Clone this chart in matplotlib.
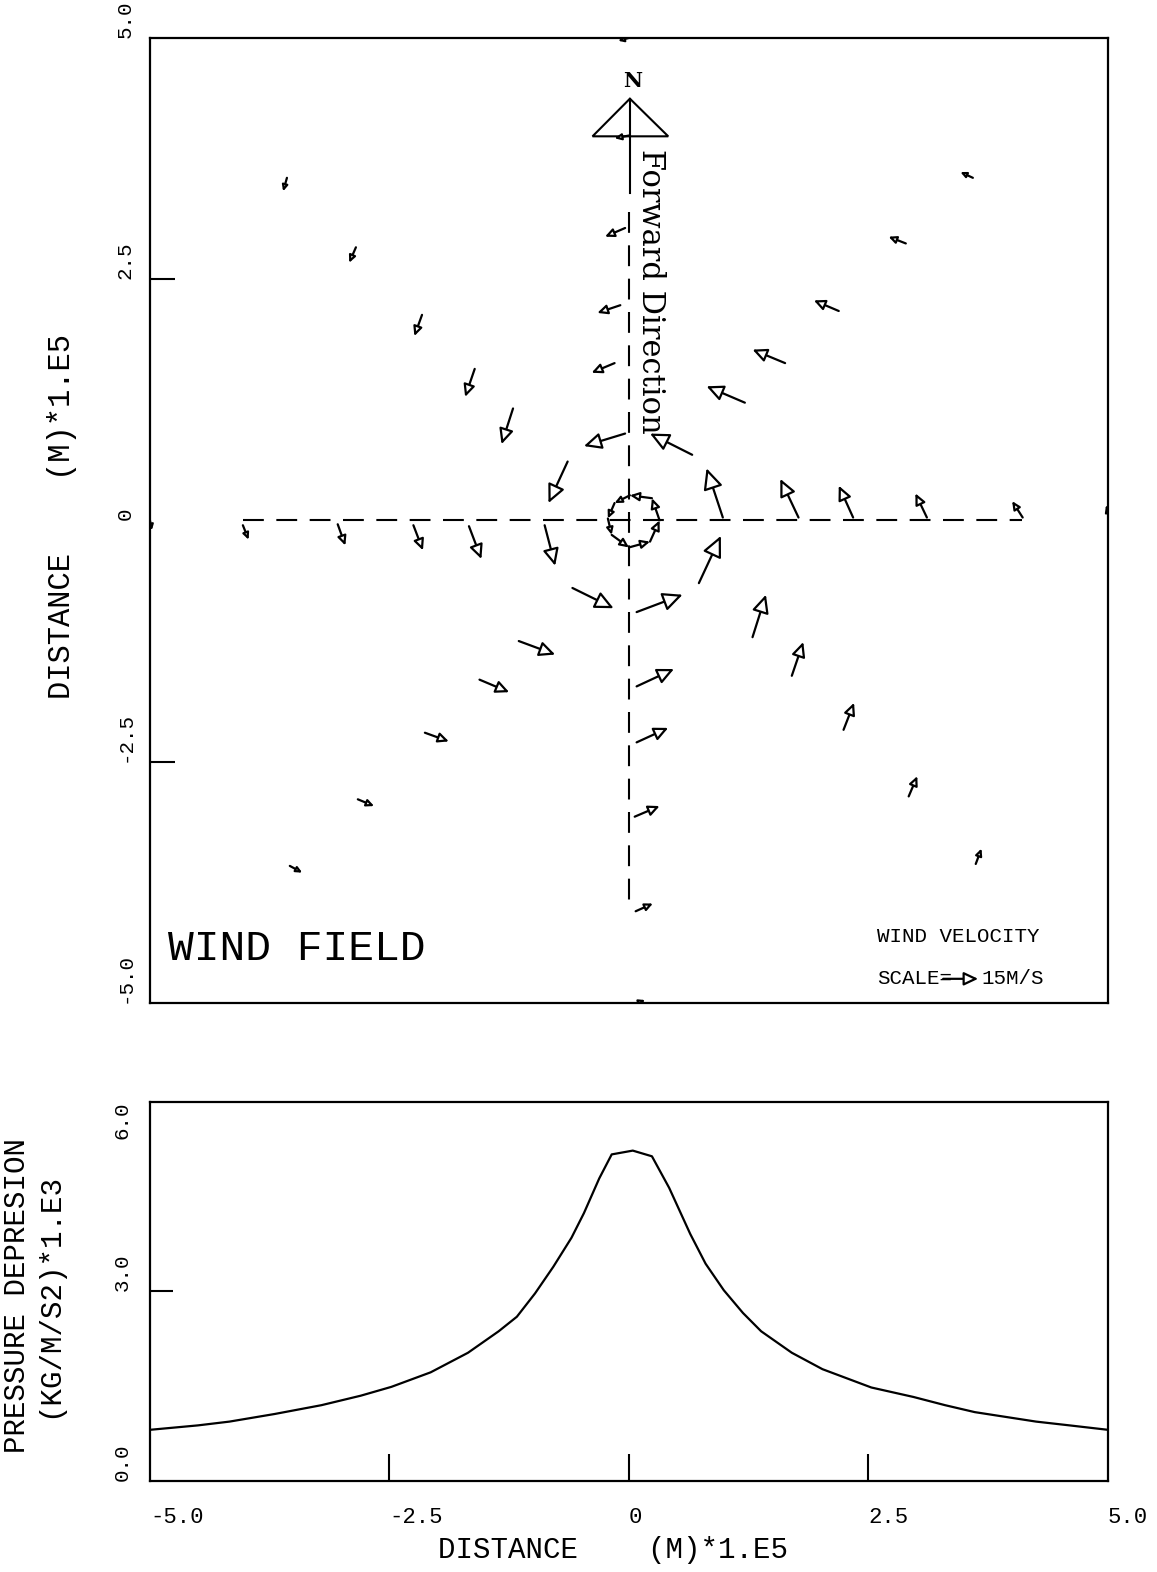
import numpy as np
import matplotlib.pyplot as plt
from matplotlib.patches import FancyArrowPatch, Polygon

mono = ['Liberation Mono', 'DejaVu Sans Mono']
serif = ['DejaVu Serif', 'Liberation Serif']

# wind vectors: tail (x0, y0) -> head (x1, y1), distance units 1.E5 m
# order: N, NW, W, SW, S, SE, E, NE rays (outer to inner), then the inner ring
x0 = [0.00, 0.01, -0.04, -0.09, -0.15, -0.04,
      -3.57, -2.85, -2.16, -1.61, -1.21, -0.64,
      -5.00, -4.03, -3.04, -2.25, -1.67, -0.88,
      -3.54, -2.83, -2.13, -1.56, -1.15, -0.59,
      0.03, 0.07, 0.06, 0.08, 0.08, 0.08,
      3.62, 2.92, 2.24, 1.70, 1.29, 0.73,
      5.03, 4.11, 3.11, 2.34, 1.77, 0.98,
      3.59, 2.89, 2.19, 1.63, 1.21, 0.66,
      0.32, 0.24, 0.01, -0.15, -0.22, -0.18, 0.00, 0.22]
y0 = [5.00, 3.99, 3.03, 2.23, 1.63, 0.90,
      3.55, 2.83, 2.13, 1.57, 1.16, 0.61,
      0.00, -0.05, -0.04, -0.05, -0.06, -0.05,
      -3.58, -2.89, -2.20, -1.65, -1.25, -0.70,
      -5.02, -4.05, -3.07, -2.30, -1.72, -0.95,
      -3.56, -2.86, -2.17, -1.61, -1.21, -0.65,
      0.00, 0.03, 0.03, 0.03, 0.03, 0.03,
      3.55, 2.87, 2.17, 1.63, 1.22, 0.68,
      0.00, 0.23, 0.26, 0.18, 0.02, -0.15, -0.28, -0.22]
x1 = [-0.11, -0.15, -0.25, -0.33, -0.39, -0.47,
      -3.61, -2.92, -2.24, -1.71, -1.33, -0.84,
      -4.98, -3.97, -2.96, -2.15, -1.54, -0.77,
      -3.41, -2.66, -1.88, -1.25, -0.77, -0.16,
      0.17, 0.25, 0.32, 0.41, 0.47, 0.56,
      3.68, 3.01, 2.35, 1.82, 1.43, 0.96,
      4.98, 4.00, 2.99, 2.19, 1.58, 0.81,
      3.46, 2.71, 1.93, 1.29, 0.81, 0.22,
      0.24, 0.01, -0.15, -0.22, -0.18, 0.00, 0.22, 0.32]
y1 = [4.97, 3.96, 2.94, 2.15, 1.53, 0.77,
      3.41, 2.67, 1.91, 1.28, 0.79, 0.18,
      -0.10, -0.20, -0.26, -0.31, -0.40, -0.47,
      -3.65, -2.96, -2.29, -1.78, -1.39, -0.91,
      -4.97, -3.97, -2.96, -2.15, -1.54, -0.77,
      -3.40, -2.65, -1.89, -1.26, -0.77, -0.16,
      0.16, 0.20, 0.28, 0.36, 0.43, 0.54,
      3.61, 2.94, 2.28, 1.77, 1.39, 0.90,
      0.23, 0.26, 0.18, 0.02, -0.15, -0.28, -0.22, 0.00]

scale_len = 0.365  # 15 m/s reference arrow

# pressure depression profile (x 1.E5 m, kg/m/s2 x 1.E3)
p_x = [-5.0, -4.5, -4.17, -3.7, -3.21, -2.8, -2.48, -2.07, -1.68, -1.36, -1.17, -0.98, -0.79,
       -0.60, -0.47, -0.31, -0.18, 0.04, 0.24, 0.42, 0.64, 0.80, 0.99,
       1.19, 1.38, 1.70, 2.02, 2.53, 2.97, 3.3, 3.61, 4.25, 4.6, 5.0]
p_y = [0.81, 0.88, 0.94, 1.06, 1.20, 1.35, 1.49, 1.72, 2.03, 2.37, 2.60, 2.97, 3.39,
       3.85, 4.24, 4.79, 5.17, 5.23, 5.14, 4.64, 3.91, 3.44, 3.02,
       2.66, 2.37, 2.03, 1.77, 1.48, 1.33, 1.20, 1.09, 0.94, 0.88, 0.81]

ticks_top = [-5, -2.5, 0, 2.5, 5]
ticks_top_lbl = ['-5.0', '-2.5', '0', '2.5', '5.0']
xt_bot = [-5, -2.5, 0, 2.5, 5]
xt_bot_lbl = ['-5.0', '-2.5', '0', '2.5', '5.0']
yt_bot = [0, 3, 6]
yt_bot_lbl = ['0.0', '3.0', '6.0']

fig = plt.figure(figsize=(11.57, 15.72), dpi=100)
ax = fig.add_axes([0.1296, 0.3620, 0.8280, 0.6139])
ax2 = fig.add_axes([0.1296, 0.0579, 0.8280, 0.2411])

for a in (ax, ax2):
    for s in a.spines.values():
        s.set_linewidth(1.6)
    a.xaxis.remove_overlapping_locs = False
    a.yaxis.remove_overlapping_locs = False

# ---- wind field ----
ax.set_xlim(-5, 5)
ax.set_ylim(-5, 5)
ax.set_xticks([])
ax.set_yticks(ticks_top, labels=ticks_top_lbl)
ax.set_yticks([-2.5, 2.5], minor=True)
ax.tick_params(axis='y', which='major', length=0, pad=11, labelsize=15)
ax.tick_params(axis='y', which='minor', direction='in', length=18, width=1.5)
for lbl in ax.get_yticklabels():
    lbl.set(rotation=90, rotation_mode='anchor', ha='left', va='bottom', family=mono)

dash = (0, (10, 6))
ax.plot([-4.03, 4.1], [0, 0], color='k', lw=1.5, ls=dash)
ax.plot([0, 0], [3.2, -4.05], color='k', lw=1.5, ls=dash)
ax.plot([0.01, 0.01], [4.37, 3.39], color='k', lw=1.5)
ax.add_patch(Polygon([[0.01, 4.37], [-0.38, 3.98], [0.41, 3.98]], closed=True,
                     fill=False, ec='k', lw=1.5))
ax.text(0.04, 4.55, 'N', family=serif, fontweight='bold', fontsize=15,
        ha='center', va='center')
ax.text(0.22, 3.85, 'Forward Direction', family=serif, fontsize=22,
        rotation=-90, ha='center', va='top')

fig.canvas.draw()


def arrow(a, xa, ya, xb, yb):
    pa = a.transData.transform((xa, ya))
    pb = a.transData.transform((xb, yb))
    L = np.hypot(*(pb - pa)) * 72 / fig.dpi
    hl = max(0.34 * L, 3.0)
    hw = max(0.16 * L, 1.6)
    a.add_patch(FancyArrowPatch((xa, ya), (xb, yb),
                                arrowstyle=f'-|>,head_length={hl:.2f},head_width={hw:.2f}',
                                mutation_scale=1, shrinkA=0, shrinkB=0,
                                fc='white', ec='k', lw=1.6))


for xa, ya, xb, yb in zip(x0, y0, x1, y1):
    arrow(ax, xa, ya, xb, yb)

ax.text(-4.81, -4.44, 'WIND FIELD', family=mono, fontsize=31, va='center', ha='left')
ax.text(2.59, -4.31, 'WIND VELOCITY', family=mono, fontsize=15, va='center', ha='left')
ax.text(2.59, -4.75, 'SCALE=', family=mono, fontsize=15, va='center', ha='left')
arrow(ax, 3.28, -4.75, 3.28 + scale_len, -4.75)
ax.text(3.68, -4.75, '15M/S', family=mono, fontsize=15, va='center', ha='left')

ax.text(-0.092, 0.504, 'DISTANCE    (M)*1.E5', transform=ax.transAxes, family=mono,
        fontsize=22, rotation=90, ha='center', va='center')

# ---- pressure profile ----
ax2.plot(p_x, p_y, color='k', lw=1.6)
ax2.set_xlim(-5, 5)
ax2.set_ylim(0, 6)
ax2.set_xticks(xt_bot, labels=xt_bot_lbl)
ax2.set_xticks([-2.5, 0, 2.5], minor=True)
ax2.set_yticks(yt_bot, labels=yt_bot_lbl)
ax2.set_yticks([3], minor=True)
ax2.tick_params(axis='x', which='major', length=0, pad=19, labelsize=16)
ax2.tick_params(axis='x', which='minor', direction='in', length=19.5, width=1.5)
ax2.tick_params(axis='y', which='major', length=0, pad=13, labelsize=15)
ax2.tick_params(axis='y', which='minor', direction='in', length=16.5, width=1.5)
for lbl in ax2.get_xticklabels():
    lbl.set(ha='left', family=mono)
ylbls = ax2.get_yticklabels()
for lbl in ylbls:
    lbl.set(rotation=90, rotation_mode='anchor', ha='left', va='bottom', family=mono)
ylbls[-1].set_ha('right')

ax2.text(0.483, -0.182, 'DISTANCE    (M)*1.E5', transform=ax2.transAxes, family=mono,
         fontsize=21, ha='center', va='center')
ax2.text(-0.122, 0.49, 'PRESSURE DEPRESION\n(KG/M/S2)*1.E3', transform=ax2.transAxes,
         family=mono, fontsize=21, rotation=90, ha='center', va='center',
         multialignment='center', linespacing=1.15)

fig.savefig('out.png', dpi=100)
